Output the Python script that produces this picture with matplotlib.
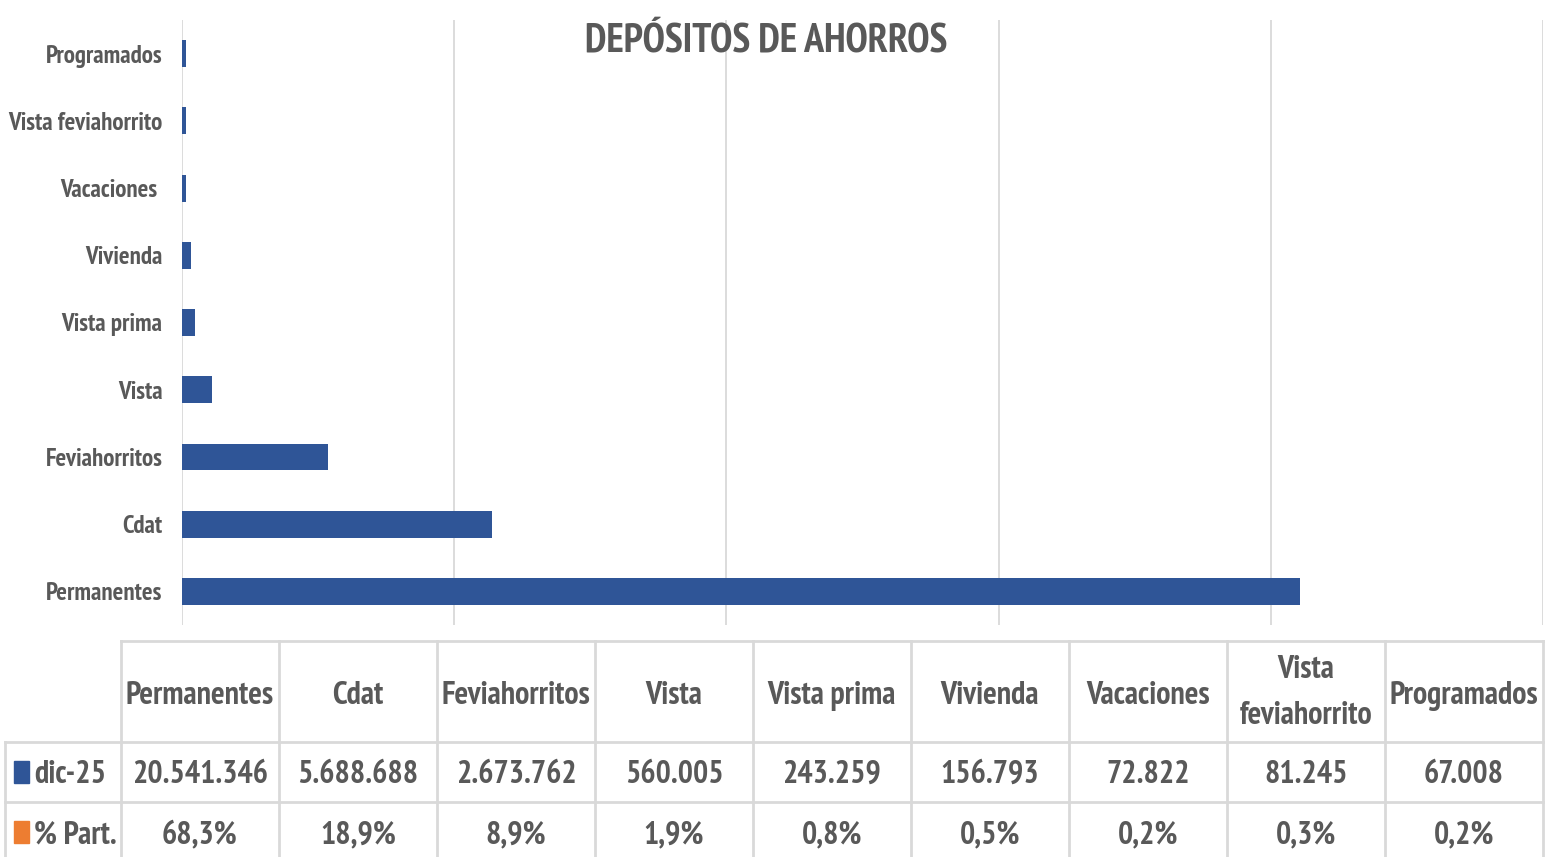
import matplotlib.pyplot as plt
from matplotlib.lines import Line2D
from matplotlib.patches import Rectangle

# Saldos de depósitos de ahorro por producto
categorias = ['Permanentes', 'Cdat', 'Feviahorritos', 'Vista', 'Vista prima',
              'Vivienda', 'Vacaciones ', 'Vista feviahorrito', 'Programados']
encabezados = ['Permanentes', 'Cdat', 'Feviahorritos', 'Vista', 'Vista prima',
               'Vivienda', 'Vacaciones', 'Vista\nfeviahorrito', 'Programados']
saldos_dic25 = [20541346, 5688688, 2673762, 560005, 243259, 156793, 72822, 81245, 67008]
participacion = [68.3, 18.9, 8.9, 1.9, 0.8, 0.5, 0.2, 0.3, 0.2]

AZUL = '#2F5597'
NARANJA = '#ED7D31'
GRIS_TEXTO = '#595959'
GRIS_LINEA = '#D9D9D9'

plt.rcParams['font.family'] = ['PT Sans Narrow', 'DejaVu Sans']
plt.rcParams['font.weight'] = 'bold'


def miles(v):
    return f'{v:,}'.replace(',', '.')


def porcentaje(p):
    return f'{p:.1f}%'.replace('.', ',')


W, H = 1548, 857
fig = plt.figure(figsize=(W / 100, H / 100), dpi=100)

# Gráfico de barras horizontales
ax = fig.add_axes([182 / W, 1 - 625 / H, (1543 - 182) / W, (625 - 20) / H])
ax.barh(range(len(categorias)), saldos_dic25, height=0.4, color=AZUL, zorder=3)
ax.set_xlim(0, 25_000_000)
ax.set_ylim(-0.5, len(categorias) - 0.5)
ax.set_xticks(range(0, 25_000_001, 5_000_000))
ax.set_xticklabels([])
ax.set_yticks(range(len(categorias)))
ax.set_yticklabels(categorias, fontsize=18, color=GRIS_TEXTO)
ax.tick_params(length=0, pad=14)
ax.grid(axis='x', color=GRIS_LINEA, linewidth=1.3, zorder=0)
for s in ax.spines.values():
    s.set_visible(False)

fig.text(766 / W, 1 - 52 / H, 'DEPÓSITOS DE AHORROS', ha='center', va='baseline',
         fontsize=29, color=GRIS_TEXTO)


# Tabla de datos debajo del gráfico
def fx(px):
    return px / W


def fy(py):
    return 1 - py / H


x0, ancho = 121, 158
xs = [x0 + i * ancho for i in range(len(categorias) + 1)]
y_top, y_r1, y_r2, y_bot = 641, 742, 802, 862
TAM = 23


def linea(xa, xb, ya, yb):
    fig.add_artist(Line2D([fx(xa), fx(xb)], [fy(ya), fy(yb)], color=GRIS_LINEA,
                          linewidth=2, transform=fig.transFigure))


linea(xs[0], xs[-1], y_top, y_top)
linea(5, xs[-1], y_r1, y_r1)
linea(5, xs[-1], y_r2, y_r2)
linea(5, 5, y_r1, y_bot)
for x in xs:
    linea(x, x, y_top, y_bot)

for i, (enc, val, pct) in enumerate(zip(encabezados, saldos_dic25, participacion)):
    xc = fx(xs[i] + ancho / 2)
    partes = enc.split('\n')
    bases = [704] if len(partes) == 1 else [678, 724]
    for parte, yb in zip(partes, bases):
        fig.text(xc, fy(yb), parte, ha='center', va='baseline', fontsize=TAM,
                 color=GRIS_TEXTO)
    fig.text(xc, fy(783), miles(val), ha='center', va='baseline', fontsize=TAM,
             color=GRIS_TEXTO)
    fig.text(xc, fy(843), porcentaje(pct), ha='center', va='baseline', fontsize=TAM,
             color=GRIS_TEXTO)

for yb, color, etiqueta in [(783, AZUL, 'dic-25'), (843, NARANJA, '% Part.')]:
    fig.add_artist(Rectangle((fx(14), fy(yb)), 15 / W, 22 / H, color=color,
                             transform=fig.transFigure))
    fig.text(fx(34), fy(yb), etiqueta, ha='left', va='baseline', fontsize=TAM,
             color=GRIS_TEXTO)

fig.savefig('out.png', dpi=100, facecolor='white')
